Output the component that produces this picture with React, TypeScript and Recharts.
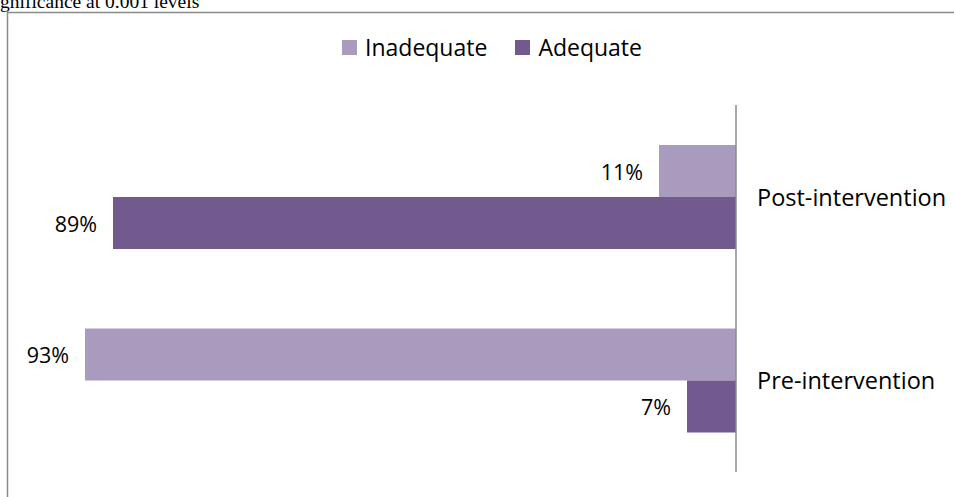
import { Bar, BarChart, LabelList, Legend, XAxis, YAxis } from "recharts";

const stages = ["Post-intervention", "Pre-intervention"];
const inadequate = [11, 93];
const adequate = [89, 7];
const seriesOrder = ["Inadequate", "Adequate"];

const LIGHT = "#A99BBE";
const DARK = "#725A8F";
const FONT = "'Open Sans', sans-serif";

const data = stages.map((stage, i) => ({
  stage,
  inadequate: inadequate[i],
  adequate: adequate[i],
}));

function PctLabel(props: any) {
  const { x, y, width, height, value } = props;
  const left = Math.min(Number(x), Number(x) + Number(width));
  return (
    <text
      x={left - 16}
      y={Number(y) + Number(height) / 2}
      textAnchor="end"
      dominantBaseline="central"
      fontFamily={FONT}
      fontSize={21.5}
      fill="#000"
    >
      {`${value}%`}
    </text>
  );
}

function StageTick(props: any) {
  const { x, y, payload } = props;
  return (
    <text
      x={Number(x) + 13}
      y={y}
      textAnchor="start"
      dominantBaseline="central"
      fontFamily={FONT}
      fontSize={23.5}
      fill="#000"
    >
      {payload.value}
    </text>
  );
}

function LegendBox({ payload }: any) {
  const items = [...(payload ?? [])].sort(
    (a: any, b: any) => seriesOrder.indexOf(a.value) - seriesOrder.indexOf(b.value)
  );
  return (
    <div
      style={{
        display: "flex",
        justifyContent: "center",
        gap: 28,
        paddingLeft: 30,
        fontFamily: FONT,
        fontSize: 23,
      }}
    >
      {items.map((p: any) => (
        <div key={p.value} style={{ display: "flex", alignItems: "center", gap: 8 }}>
          <span style={{ width: 15, height: 15, background: p.color, display: "inline-block" }} />
          <span>{p.value}</span>
        </div>
      ))}
    </div>
  );
}

export default function App() {
  return (
    <div style={{ position: "fixed", left: 0, top: 0, width: 954, height: 497, overflow: "hidden", background: "#fff" }}>
      <svg width={954} height={497} style={{ position: "absolute", left: 0, top: 0 }}>
        <text x={0} y={8} fontFamily="'Liberation Serif', serif" fontSize={19.5} fill="#000">
          gnificance at 0.001 levels
        </text>
        <rect x={7.5} y={12.5} width={950} height={500} fill="none" stroke="#8a8a8a" strokeWidth={1.5} />
      </svg>
      <div style={{ position: "absolute", left: 0, top: 0 }}>
        <BarChart
          width={954}
          height={497}
          data={data}
          layout="vertical"
          barGap={0}
          barSize={52}
          margin={{ top: 73, right: 0, bottom: 25, left: 36 }}
        >
          <XAxis type="number" domain={[0, 100]} reversed hide />
          <YAxis
            type="category"
            dataKey="stage"
            orientation="right"
            width={218}
            axisLine={{ stroke: "#8a8a8a", strokeWidth: 1.5 }}
            tickLine={false}
            tick={<StageTick />}
          />
          <Legend
            verticalAlign="top"
            content={<LegendBox />}
            wrapperStyle={{ top: 31, left: 0, width: 954 }}
          />
          <Bar dataKey="inadequate" name="Inadequate" fill={LIGHT} isAnimationActive={false}>
            <LabelList dataKey="inadequate" content={<PctLabel />} />
          </Bar>
          <Bar dataKey="adequate" name="Adequate" fill={DARK} isAnimationActive={false}>
            <LabelList dataKey="adequate" content={<PctLabel />} />
          </Bar>
        </BarChart>
      </div>
    </div>
  );
}
